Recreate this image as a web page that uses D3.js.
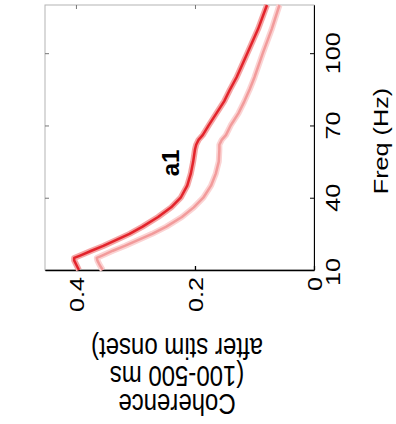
<!DOCTYPE html>
<html>
<head>
<meta charset="utf-8">
<script src="https://cdn.jsdelivr.net/npm/d3@7"></script>
<style>
body { margin: 0; background: #fff; }
text { font-family: "Liberation Sans", Arial, sans-serif; fill: #000; }
</style>
</head>
<body>
<div id="chart"></div>
<script>
// frequency samples (Hz) and coherence of the two conditions
var freqs = [10, 12, 14, 15, 16, 18, 20, 25, 28, 32, 36, 40, 45, 50, 55, 60, 62, 64, 66, 70, 75, 80, 85, 90, 100, 110, 120];
var cohDark = [0.395, 0.399, 0.403, 0.403, 0.393, 0.374, 0.354, 0.310, 0.288, 0.262, 0.240, 0.224, 0.213, 0.207, 0.203, 0.200, 0.198, 0.194, 0.187, 0.177, 0.164, 0.151, 0.141, 0.130, 0.112, 0.094, 0.079];
var cohLight = [0.355, 0.360, 0.364, 0.365, 0.356, 0.338, 0.318, 0.272, 0.248, 0.222, 0.202, 0.186, 0.173, 0.165, 0.160, 0.159, 0.159, 0.155, 0.148, 0.140, 0.127, 0.117, 0.108, 0.100, 0.086, 0.071, 0.058];

var freqTicks = [10, 40, 70, 100];
var cohTicks = [0, 0.2, 0.4];
var cohTickLabels = ["0", "0.2", "0.4"];
var yLabelLines = ["after stim onset)", "(100-500 ms", "Coherence"];

var plotL = 45, plotR = 314, plotT = 5, plotB = 270;

var svg = d3.select("#chart").append("svg")
	.attr("width", 396)
	.attr("height", 424);

// figure is turned on its side: coherence runs right-to-left, freq runs up
var x = d3.scaleLinear().domain([0, 0.452]).range([plotR, plotL]);
var y = d3.scaleLinear().domain([10, 120]).range([plotB, plotT]);

function tf(tx, ty, ang) {
	return "translate(" + tx + "," + ty + ") scale(1,1.2) rotate(" + ang + ")";
}

// grey box
svg.append("rect")
	.attr("x", plotL).attr("y", plotT)
	.attr("width", plotR - plotL).attr("height", plotB - plotT)
	.style("fill", "none").style("stroke", "#b4b4b4").style("stroke-width", 1);

// mirrored ticks on the grey sides
svg.append("g").attr("transform", "translate(" + plotL + ",0)")
	.call(d3.axisRight(y).tickValues(freqTicks).tickSize(4).tickFormat(""))
	.call(function(g) { g.select(".domain").remove(); g.selectAll("line").style("stroke", "#777"); });
svg.append("g").attr("transform", "translate(0," + plotT + ")")
	.call(d3.axisBottom(x).tickValues(cohTicks).tickSize(4).tickFormat(""))
	.call(function(g) { g.select(".domain").remove(); g.selectAll("line").style("stroke", "#777"); });

// black axes (right = freq, bottom = coherence)
svg.append("g").attr("transform", "translate(" + plotR + ",0)")
	.call(d3.axisRight(y).tickValues(freqTicks).tickSize(-4).tickSizeOuter(0).tickFormat(""))
	.call(function(g) { g.selectAll("path,line").style("stroke", "#000"); });
svg.append("g").attr("transform", "translate(0," + plotB + ")")
	.call(d3.axisBottom(x).tickValues(cohTicks).tickSize(-4).tickSizeOuter(0).tickFormat(""))
	.call(function(g) { g.selectAll("path,line").style("stroke", "#000").style("stroke-width", 1.3); });

// curves
function pairs(vals) {
	return freqs.map(function(f, i) { return [f, vals[i]]; });
}
var line = d3.line()
	.x(function(d) { return x(d[1]); })
	.y(function(d) { return y(d[0]); });

var curves = [
	{vals: cohLight, halo: "#fbd3d3", core: "#f29b9b"},
	{vals: cohDark, halo: "#f5a5a5", core: "#e3232b"}
];
curves.forEach(function(c) {
	svg.append("path").attr("d", line(pairs(c.vals)))
		.style("fill", "none").style("stroke", c.halo).style("stroke-width", 6)
		.style("stroke-linejoin", "round");
	svg.append("path").attr("d", line(pairs(c.vals)))
		.style("fill", "none").style("stroke", c.core).style("stroke-width", 2.5)
		.style("stroke-linejoin", "round");
});

// tick labels
svg.selectAll(".flab").data(freqTicks).enter().append("text")
	.attr("class", "flab")
	.attr("transform", function(d) { return tf(340, y(d) + (d == 10 ? 2 : 0), -90); })
	.attr("text-anchor", "middle")
	.style("font-size", "21px")
	.text(function(d) { return d; });

svg.selectAll(".clab").data(cohTicks).enter().append("text")
	.attr("class", "clab")
	.attr("transform", function(d) { return tf(x(d) + 8, 277, -90); })
	.attr("text-anchor", "end")
	.style("font-size", "21px")
	.text(function(d, i) { return cohTickLabels[i]; });

// axis titles
svg.append("text")
	.attr("transform", tf(388, 141, -90))
	.attr("text-anchor", "middle")
	.style("font-size", "21px")
	.text("Freq (Hz)");

svg.selectAll(".ylab").data(yLabelLines).enter().append("text")
	.attr("class", "ylab")
	.attr("transform", function(d, i) { return tf(177, 338 + i * 28, 180); })
	.attr("text-anchor", "middle")
	.style("font-size", "24px")
	.text(function(d) { return d; });

svg.append("text")
	.attr("transform", "translate(179,163) rotate(-90)")
	.attr("text-anchor", "middle")
	.style("font-size", "24px")
	.style("font-weight", "bold")
	.text("a1");
</script>
</body>
</html>
